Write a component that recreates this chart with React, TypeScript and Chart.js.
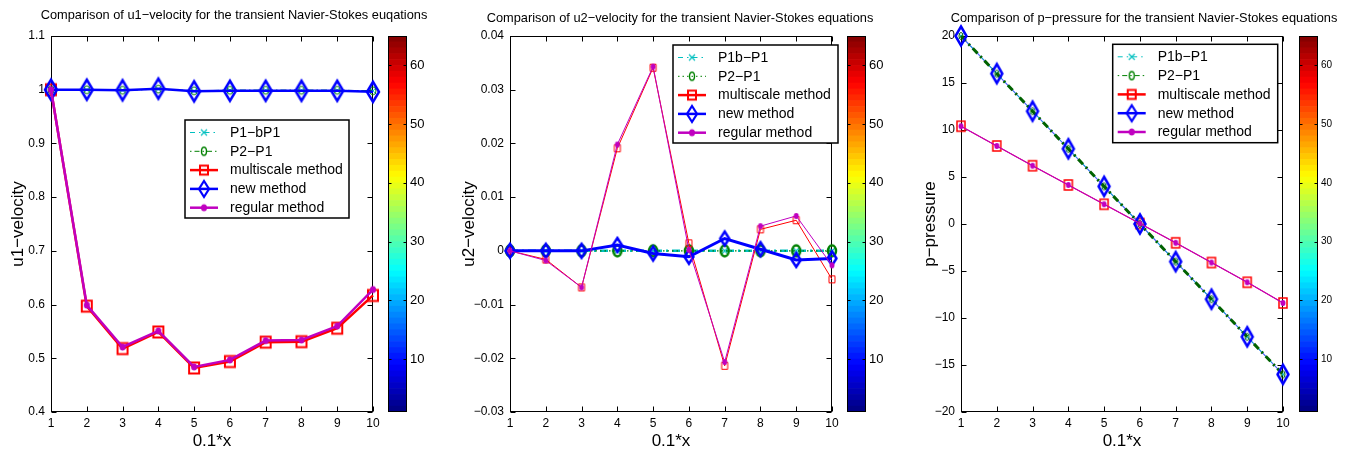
import React, { useEffect, useRef } from 'react';
import { Chart, registerables } from 'chart.js';

Chart.register(...registerables);

const FONT = '"Liberation Sans", Arial, Helvetica, sans-serif';
Chart.defaults.font.family = FONT;

// ---------------- data ----------------
const X_LABELS = ['1', '2', '3', '4', '5', '6', '7', '8', '9', '10'];

const NAMES_U1 = ['P1−bP1', 'P2−P1', 'multiscale method', 'new method', 'regular method'];
const NAMES_U2 = ['P1b−P1', 'P2−P1', 'multiscale method', 'new method', 'regular method'];
const NAMES_P = ['P1b−P1', 'P2−P1', 'multiscale method', 'new method', 'regular method'];

const TITLE_U1 = 'Comparison of u1−velocity for the transient Navier-Stokes euqations';
const TITLE_U2 = 'Comparison of u2−velocity for the transient Navier-Stokes equations';
const TITLE_P = 'Comparison of p−pressure for the transient Navier-Stokes equations';
const X_TITLE = '0.1*x';

// u1-velocity
const U1_P1BP1 = [1.0, 1.0, 0.999, 1.001, 0.998, 0.999, 0.999, 0.999, 0.999, 0.998];
const U1_P2P1 = [1.0, 1.0, 0.999, 1.001, 0.998, 0.999, 0.999, 0.999, 0.999, 0.998];
const U1_MULTI = [1.0, 0.597, 0.518, 0.549, 0.482, 0.494, 0.53, 0.531, 0.556, 0.617];
const U1_NEW = [1.0, 1.0, 0.999, 1.002, 0.997, 0.998, 0.998, 0.998, 0.998, 0.996];
const U1_REG = [1.0, 0.599, 0.521, 0.551, 0.484, 0.497, 0.533, 0.534, 0.56, 0.628];
const U1_TICKS = [0.4, 0.5, 0.6, 0.7, 0.8, 0.9, 1.0, 1.1];
const U1_TICK_LABELS = ['0.4', '0.5', '0.6', '0.7', '0.8', '0.9', '1', '1.1'];

// u2-velocity
const U2_P1BP1 = [0, 0, 0, 0, 0, 0, 0, 0, 0, 0];
const U2_P2P1 = [0, 0, 0, 0, 0, 0, 0, 0, 0, 0];
const U2_MULTI = [0, -0.0016, -0.0068, 0.0191, 0.0341, 0.0014, -0.0214, 0.004, 0.0057, -0.0053];
const U2_NEW = [0, 0, 0, 0.0011, -0.0005, -0.0011, 0.0023, 0.0003, -0.0017, -0.0014];
const U2_REG = [0, -0.0018, -0.0068, 0.0198, 0.0343, 0.0002, -0.0207, 0.0046, 0.0065, -0.0027];
const U2_TICKS = [-0.03, -0.02, -0.01, 0, 0.01, 0.02, 0.03, 0.04];
const U2_TICK_LABELS = ['−0.03', '−0.02', '−0.01', '0', '0.01', '0.02', '0.03', '0.04'];

// p-pressure
const P_P1BP1 = [20, 16, 12, 8, 4, 0, -4, -8, -12, -16];
const P_P2P1 = [20, 16, 12, 8, 4, 0, -4, -8, -12, -16];
const P_MULTI = [10.4, 8.3, 6.2, 4.15, 2.1, 0.05, -2.0, -4.1, -6.2, -8.4];
const P_NEW = [20, 16, 12, 8, 4, 0, -4, -8, -12, -16];
const P_REG = [10.4, 8.3, 6.2, 4.15, 2.1, 0.05, -2.0, -4.1, -6.2, -8.4];
const P_TICKS = [-20, -15, -10, -5, 0, 5, 10, 15, 20];
const P_TICK_LABELS = ['−20', '−15', '−10', '−5', '0', '5', '10', '15', '20'];

// colorbar
const CBAR_TICKS = [10, 20, 30, 40, 50, 60];
const CBAR_MIN = 1;
const CBAR_MAX = 65;
const CBAR_LEVELS = Array.from({ length: 64 }, (_, i) => i + 1);

// ---------------- styles ----------------
const C_CYAN = '#00bfbf';
const C_GREEN = '#008000';
const C_DGREEN = '#006200';
const C_RED = '#ff0000';
const C_BLUE = '#0000ff';
const C_MAG = '#c000c0';

type MarkerKind = 'diamond' | 'square' | 'circle' | 'dot' | 'x';

function makeMarker(kind: MarkerKind, w: number, h: number, color: string, lw: number): HTMLCanvasElement {
  const pad = Math.ceil(lw) + 1;
  let cw = Math.ceil(w + 2 * pad);
  let ch = Math.ceil(h + 2 * pad);
  if (cw % 2 === 1) cw += 1;
  if (ch % 2 === 1) ch += 1;
  const c = document.createElement('canvas');
  c.width = cw;
  c.height = ch;
  const ctx = c.getContext('2d')!;
  const cx = cw / 2;
  const cy = ch / 2;
  ctx.strokeStyle = color;
  ctx.fillStyle = color;
  ctx.lineWidth = lw;
  ctx.lineJoin = 'miter';
  ctx.beginPath();
  if (kind === 'diamond') {
    ctx.moveTo(cx, cy - h / 2);
    ctx.lineTo(cx + w / 2, cy);
    ctx.lineTo(cx, cy + h / 2);
    ctx.lineTo(cx - w / 2, cy);
    ctx.closePath();
    ctx.stroke();
  } else if (kind === 'square') {
    ctx.rect(cx - w / 2, cy - h / 2, w, h);
    ctx.stroke();
  } else if (kind === 'circle') {
    ctx.ellipse(cx, cy, w / 2, h / 2, 0, 0, Math.PI * 2);
    ctx.stroke();
  } else if (kind === 'dot') {
    ctx.ellipse(cx, cy, w / 2, h / 2, 0, 0, Math.PI * 2);
    ctx.fill();
  } else {
    ctx.moveTo(cx - w / 2, cy - h / 2);
    ctx.lineTo(cx + w / 2, cy + h / 2);
    ctx.moveTo(cx + w / 2, cy - h / 2);
    ctx.lineTo(cx - w / 2, cy + h / 2);
    ctx.stroke();
  }
  return c;
}

function jet(level: number): string {
  const x = (level - 0.5) / 64;
  const cl = (v: number) => Math.max(0, Math.min(1, v));
  const r = cl(1.5 - Math.abs(4 * x - 3));
  const g = cl(1.5 - Math.abs(4 * x - 2));
  const b = cl(1.5 - Math.abs(4 * x - 1));
  return `rgb(${Math.round(r * 255)},${Math.round(g * 255)},${Math.round(b * 255)})`;
}

interface SeriesCfg {
  data: number[];
  color: string;
  lw: number;
  dash: number[];
  marker: [MarkerKind, number, number, number] | null;
  showLine: boolean;
  order: number;
}
interface LegendItem {
  name: string;
  color: string;
  lw: number;
  dash: number[];
  marker: [MarkerKind, number, number, number];
}
interface PanelCfg {
  left: number;
  width: number;
  axisW: number;
  padRight: number;
  title: string;
  titleX: number;
  titleY: number;
  yTitle: string;
  yTitlePad: number;
  yMin: number;
  yMax: number;
  yTicks: number[];
  yLabels: string[];
  series: SeriesCfg[];
  legendBox: { x: number; y: number; w: number; h: number };
  legend: LegendItem[];
  cbLeft: number;
  cbWidth: number;
  cbAxisW: number;
  cbFont: number;
}

const DASHDOT_THIN = [6, 3, 1.5, 3];
const DASHDOT_THICK = [8, 4, 2, 4];

function legendItems(names: string[], p2Dash: number[]): LegendItem[] {
  return [
    { name: names[0], color: C_CYAN, lw: 1, dash: [5, 4, 1.5, 4], marker: ['x', 6, 6, 1.2] },
    { name: names[1], color: C_GREEN, lw: 1, dash: p2Dash, marker: ['circle', 5, 8, 1.4] },
    { name: names[2], color: C_RED, lw: 2.5, dash: [], marker: ['square', 8, 9, 2] },
    { name: names[3], color: C_BLUE, lw: 2.5, dash: [], marker: ['diamond', 10, 16, 2.2] },
    { name: names[4], color: C_MAG, lw: 2.5, dash: [], marker: ['dot', 6, 7, 1] },
  ];
}

const PANELS: PanelCfg[] = [
  {
    left: 0, width: 450, axisW: 51, padRight: 77,
    title: TITLE_U1, titleX: 234, titleY: 15.5,
    yTitle: 'u1−velocity', yTitlePad: 8,
    yMin: 0.4, yMax: 1.1, yTicks: U1_TICKS, yLabels: U1_TICK_LABELS,
    series: [
      { data: U1_P1BP1, color: C_CYAN, lw: 1, dash: DASHDOT_THIN, marker: ['x', 6, 6, 1], showLine: true, order: 5 },
      { data: U1_P2P1, color: C_GREEN, lw: 1, dash: DASHDOT_THIN, marker: ['circle', 6, 8, 1], showLine: true, order: 4 },
      { data: U1_MULTI, color: C_RED, lw: 2.5, dash: [], marker: ['square', 10, 11, 2], showLine: true, order: 3 },
      { data: U1_NEW, color: C_BLUE, lw: 2.5, dash: [], marker: ['diamond', 12, 20, 2.5], showLine: true, order: 2 },
      { data: U1_REG, color: C_MAG, lw: 2.5, dash: [], marker: ['dot', 6, 7, 1], showLine: true, order: 1 },
    ],
    legendBox: { x: 185, y: 120, w: 164, h: 98 },
    legend: legendItems(NAMES_U1, [1.5, 3, 5, 3]),
    cbLeft: 380, cbWidth: 70, cbAxisW: 43, cbFont: 13,
  },
  {
    left: 450, width: 450, axisW: 60, padRight: 68,
    title: TITLE_U2, titleX: 230, titleY: 18.3,
    yTitle: 'u2−velocity', yTitlePad: 9,
    yMin: -0.03, yMax: 0.04, yTicks: U2_TICKS, yLabels: U2_TICK_LABELS,
    series: [
      { data: U2_P1BP1, color: C_CYAN, lw: 2.5, dash: DASHDOT_THICK, marker: ['x', 6, 6, 1.2], showLine: true, order: 5 },
      { data: U2_P2P1, color: C_GREEN, lw: 1.2, dash: [1.5, 3], marker: ['circle', 8, 11, 2.5], showLine: true, order: 4 },
      { data: U2_MULTI, color: C_RED, lw: 1, dash: [], marker: ['square', 6, 7, 1], showLine: true, order: 3 },
      { data: U2_NEW, color: C_BLUE, lw: 3, dash: [], marker: ['diamond', 9, 14, 2.5], showLine: true, order: 2 },
      { data: U2_REG, color: C_MAG, lw: 1, dash: [], marker: ['dot', 5, 6, 1], showLine: true, order: 1 },
    ],
    legendBox: { x: 223, y: 45, w: 165, h: 98 },
    legend: legendItems(NAMES_U2, [1.5, 3]),
    cbLeft: 839, cbWidth: 61, cbAxisW: 34, cbFont: 13,
  },
  {
    left: 900, width: 446, axisW: 61, padRight: 63,
    title: TITLE_P, titleX: 244, titleY: 18.3,
    yTitle: 'p−pressure', yTitlePad: 20,
    yMin: -20, yMax: 20, yTicks: P_TICKS, yLabels: P_TICK_LABELS,
    series: [
      { data: P_MULTI, color: C_RED, lw: 1, dash: [], marker: ['square', 8, 10, 1.5], showLine: true, order: 7 },
      { data: P_NEW, color: '#5a5aff', lw: 1.2, dash: [], marker: null, showLine: true, order: 6 },
      { data: P_P1BP1, color: C_CYAN, lw: 1, dash: DASHDOT_THIN, marker: ['x', 5, 6, 1], showLine: true, order: 5 },
      { data: P_P2P1, color: C_DGREEN, lw: 3, dash: [7, 4, 2, 4], marker: ['circle', 4, 7, 1], showLine: true, order: 4 },
      { data: P_NEW, color: C_BLUE, lw: 2.5, dash: [], marker: ['diamond', 11, 19, 2.5], showLine: false, order: 3 },
      { data: P_REG, color: C_MAG, lw: 1.3, dash: [], marker: ['dot', 5, 6, 1], showLine: true, order: 1 },
    ],
    legendBox: { x: 212.7, y: 44.3, w: 165, h: 98.4 },
    legend: legendItems(NAMES_P, [1.5, 3, 5, 3]),
    cbLeft: 1291, cbWidth: 55, cbAxisW: 28, cbFont: 10,
  },
];

// ---------------- plugins ----------------
function decoPlugin(cfg: PanelCfg, markers: Map<string, HTMLCanvasElement>) {
  return {
    id: 'deco',
    beforeDatasetsDraw(chart: any) {
      const { ctx, chartArea: a, scales } = chart;
      ctx.save();
      ctx.strokeStyle = '#000';
      ctx.lineWidth = 1;
      const L = Math.round(a.left) + 0.5;
      const R = Math.round(a.right) - 0.5;
      const T = Math.round(a.top) + 0.5;
      const B = Math.round(a.bottom) - 0.5;
      ctx.strokeRect(L, T, R - L, B - T);
      ctx.beginPath();
      const xs = scales.x;
      xs.ticks.forEach((_t: any, i: number) => {
        const x = Math.round(xs.getPixelForTick(i)) + 0.5;
        ctx.moveTo(x, B);
        ctx.lineTo(x, B - 5);
        ctx.moveTo(x, T);
        ctx.lineTo(x, T + 5);
      });
      const ys = scales.y;
      ys.ticks.forEach((t: any) => {
        const y = Math.round(ys.getPixelForValue(t.value)) + 0.5;
        ctx.moveTo(L, y);
        ctx.lineTo(L + 5, y);
        ctx.moveTo(R, y);
        ctx.lineTo(R - 5, y);
      });
      ctx.stroke();
      ctx.restore();
    },
    afterDraw(chart: any) {
      const { ctx } = chart;
      ctx.save();
      // title
      ctx.fillStyle = '#000';
      ctx.font = `12.8px ${FONT}`;
      ctx.textAlign = 'center';
      ctx.textBaseline = 'middle';
      ctx.fillText(cfg.title, cfg.titleX, cfg.titleY);
      // legend
      const b = cfg.legendBox;
      ctx.fillStyle = '#fff';
      ctx.fillRect(b.x, b.y, b.w, b.h);
      ctx.strokeStyle = '#000';
      ctx.lineWidth = 1.5;
      ctx.strokeRect(b.x, b.y, b.w, b.h);
      cfg.legend.forEach((it, i) => {
        const y = b.y + 12.5 + i * 18.8;
        ctx.save();
        ctx.strokeStyle = it.color;
        ctx.lineWidth = it.lw;
        ctx.setLineDash(it.dash);
        ctx.beginPath();
        ctx.moveTo(b.x + 5, y);
        ctx.lineTo(b.x + 33, y);
        ctx.stroke();
        ctx.restore();
        const mk = markers.get('L' + i);
        if (mk) ctx.drawImage(mk, b.x + 19 - mk.width / 2, y - mk.height / 2);
        ctx.fillStyle = '#000';
        ctx.font = `14px ${FONT}`;
        ctx.textAlign = 'left';
        ctx.textBaseline = 'middle';
        ctx.fillText(it.name, b.x + 45, y + 0.5);
      });
      ctx.restore();
    },
  };
}

const cbarFrame = {
  id: 'cbarFrame',
  afterDraw(chart: any) {
    const { ctx, chartArea: a, scales } = chart;
    ctx.save();
    ctx.strokeStyle = '#000';
    ctx.lineWidth = 1;
    const L = Math.round(a.left) + 0.5;
    const R = Math.round(a.right) - 0.5;
    const T = Math.round(a.top) + 0.5;
    const B = Math.round(a.bottom) - 0.5;
    ctx.strokeRect(L, T, R - L, B - T);
    ctx.beginPath();
    CBAR_TICKS.forEach((v) => {
      const y = Math.round(scales.y.getPixelForValue(v)) + 0.5;
      ctx.moveTo(L, y);
      ctx.lineTo(L + 3, y);
      ctx.moveTo(R, y);
      ctx.lineTo(R - 3, y);
    });
    ctx.stroke();
    ctx.restore();
  },
};

// ---------------- components ----------------
function MainPanel({ cfg }: { cfg: PanelCfg }) {
  const ref = useRef<HTMLCanvasElement>(null);
  useEffect(() => {
    const markers = new Map<string, HTMLCanvasElement>();
    cfg.legend.forEach((it, i) => {
      const [k, w, h, lw] = it.marker;
      markers.set('L' + i, makeMarker(k, w, h, it.color, lw));
    });
    const datasets = cfg.series.map((s) => ({
      data: s.data,
      borderColor: s.color,
      backgroundColor: s.color,
      borderWidth: s.lw,
      borderDash: s.dash,
      pointStyle: s.marker ? makeMarker(s.marker[0], s.marker[1], s.marker[2], s.color, s.marker[3]) : 'circle',
      pointRadius: s.marker ? 4 : 0,
      pointHoverRadius: s.marker ? 4 : 0,
      showLine: s.showLine,
      order: s.order,
      clip: false as any,
      tension: 0,
      fill: false,
    }));
    const chart = new Chart(ref.current!, {
      type: 'line',
      data: { labels: X_LABELS, datasets: datasets as any },
      options: {
        animation: false,
        responsive: false,
        events: [],
        layout: { padding: { top: 36, right: cfg.padRight, left: 0, bottom: 0 } },
        plugins: { legend: { display: false }, tooltip: { enabled: false }, title: { display: false } },
        scales: {
          x: {
            type: 'category',
            offset: false,
            grid: { display: false, drawTicks: false },
            border: { display: false },
            ticks: { color: '#000', font: { family: FONT, size: 12 }, padding: 4, autoSkip: false, maxRotation: 0 },
            title: { display: true, text: X_TITLE, color: '#000', font: { family: FONT, size: 17 }, padding: { top: 0, bottom: 0 } },
            afterFit: (s: any) => { s.height = 40; },
          },
          y: {
            type: 'linear',
            min: cfg.yMin,
            max: cfg.yMax,
            grid: { display: false, drawTicks: false },
            border: { display: false },
            afterBuildTicks: (s: any) => { s.ticks = cfg.yTicks.map((v) => ({ value: v })); },
            ticks: {
              color: '#000',
              font: { family: FONT, size: 12 },
              padding: 6,
              autoSkip: false,
              callback: (_v: any, i: number) => cfg.yLabels[i],
            },
            title: { display: true, text: cfg.yTitle, color: '#000', font: { family: FONT, size: 17 }, padding: { top: cfg.yTitlePad, bottom: 0 } },
            afterFit: (s: any) => { s.width = cfg.axisW; },
          },
        },
      } as any,
      plugins: [decoPlugin(cfg, markers)],
    });
    return () => chart.destroy();
  }, [cfg]);
  return (
    <canvas
      ref={ref}
      width={cfg.width}
      height={452}
      style={{ position: 'absolute', left: cfg.left, top: 0, width: cfg.width, height: 452 }}
    />
  );
}

function ColorBar({ cfg }: { cfg: PanelCfg }) {
  const ref = useRef<HTMLCanvasElement>(null);
  useEffect(() => {
    const chart = new Chart(ref.current!, {
      type: 'bar',
      data: {
        labels: [''],
        datasets: CBAR_LEVELS.map((l) => ({
          data: [[l, l + 1]] as any,
          backgroundColor: jet(l),
          borderWidth: 0,
          barPercentage: 1,
          categoryPercentage: 1,
        })),
      },
      options: {
        animation: false,
        responsive: false,
        events: [],
        layout: { padding: { left: 8, top: 36, bottom: 40, right: 0 } },
        plugins: { legend: { display: false }, tooltip: { enabled: false } },
        scales: {
          x: { display: false, stacked: true },
          y: {
            position: 'right',
            min: CBAR_MIN,
            max: CBAR_MAX,
            grid: { display: false, drawTicks: false },
            border: { display: false },
            afterBuildTicks: (s: any) => { s.ticks = CBAR_TICKS.map((v) => ({ value: v })); },
            ticks: { color: '#000', font: { family: FONT, size: cfg.cbFont }, padding: 3, autoSkip: false },
            afterFit: (s: any) => { s.width = cfg.cbAxisW; },
          },
        },
      } as any,
      plugins: [cbarFrame],
    });
    return () => chart.destroy();
  }, [cfg]);
  return (
    <canvas
      ref={ref}
      width={cfg.cbWidth}
      height={452}
      style={{ position: 'absolute', left: cfg.cbLeft, top: 0, width: cfg.cbWidth, height: 452 }}
    />
  );
}

export default function App() {
  return (
    <div style={{ position: 'fixed', left: 0, top: 0, width: 1346, height: 452, background: '#fff', overflow: 'hidden' }}>
      {PANELS.map((p, i) => (
        <MainPanel key={'m' + i} cfg={p} />
      ))}
      {PANELS.map((p, i) => (
        <ColorBar key={'c' + i} cfg={p} />
      ))}
    </div>
  );
}
